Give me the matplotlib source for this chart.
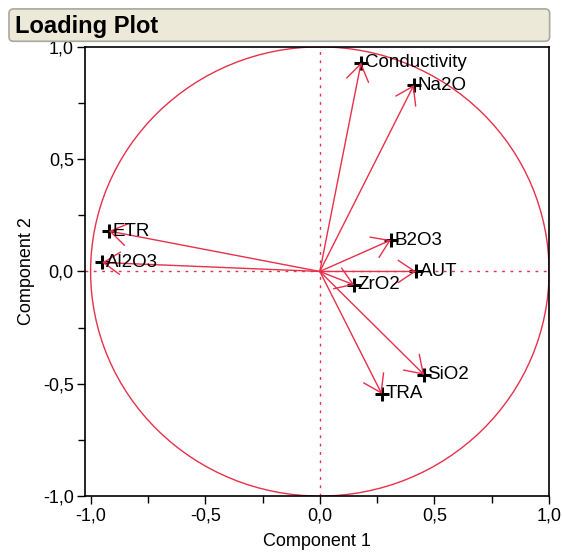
import matplotlib.pyplot as plt
from matplotlib.patches import Circle, FancyBboxPatch
from matplotlib.ticker import MultipleLocator, FuncFormatter

plt.rcParams['font.family'] = ['Liberation Sans', 'DejaVu Sans']

# loadings
names = ["Conductivity", "Na2O", "ETR", "Al2O3", "B2O3", "AUT", "ZrO2", "SiO2", "TRA"]
comp1 = [0.18, 0.41, -0.92, -0.95, 0.31, 0.42, 0.15, 0.455, 0.27]
comp2 = [0.93, 0.83, 0.18, 0.04, 0.14, 0.0, -0.06, -0.46, -0.545]

red = "#E8304A"

fig = plt.figure(figsize=(5.62, 5.58), dpi=100)

# title bar
box = FancyBboxPatch((0.016, 0.926), 0.962, 0.058, boxstyle="round,pad=0,rounding_size=0.008",
                     transform=fig.transFigure, facecolor="#ECE9D8", edgecolor="#A8A8A0", lw=1.2)
fig.patches.append(box)
fig.text(0.026, 0.953, "Loading Plot", fontsize=17, fontweight="bold", va="center", ha="left")

ax = fig.add_axes([0.151, 0.111, 0.826, 0.805])
ax.set_xlim(-1.025, 1.0)
ax.set_ylim(-1.0, 1.0)

ax.add_patch(Circle((0, 0), 1, fill=False, edgecolor=red, lw=1))
ax.axhline(0, color=red, ls=(0, (2, 4)), lw=1)
ax.axvline(0, color=red, ls=(0, (2, 4)), lw=1)

for n, x, y in zip(names, comp1, comp2):
    ax.annotate("", xy=(x, y), xytext=(0, 0),
                arrowprops=dict(arrowstyle="->,head_length=0.6,head_width=0.4",
                                color=red, lw=1, mutation_scale=20,
                                shrinkA=0, shrinkB=0))
    ax.plot(x, y, marker="+", color="black", ms=10, mew=2.2)
    ax.text(x + 0.015, y, n, fontsize=13.5, va="center", ha="left")

fmt = FuncFormatter(lambda v, p: f"{v:.1f}".replace(".", ","))
ax.xaxis.set_major_locator(MultipleLocator(0.5))
ax.yaxis.set_major_locator(MultipleLocator(0.5))
ax.xaxis.set_minor_locator(MultipleLocator(0.25))
ax.yaxis.set_minor_locator(MultipleLocator(0.25))
ax.xaxis.set_major_formatter(fmt)
ax.yaxis.set_major_formatter(fmt)
ax.tick_params(which="major", length=6, width=1, labelsize=13, pad=2)
ax.tick_params(which="minor", length=5, width=1)
for s in ax.spines.values():
    s.set_linewidth(1.2)

ax.set_xlabel("Component 1", fontsize=13, labelpad=6)
ax.set_ylabel("Component 2", fontsize=13, labelpad=6)

fig.savefig("out.png", dpi=100)
